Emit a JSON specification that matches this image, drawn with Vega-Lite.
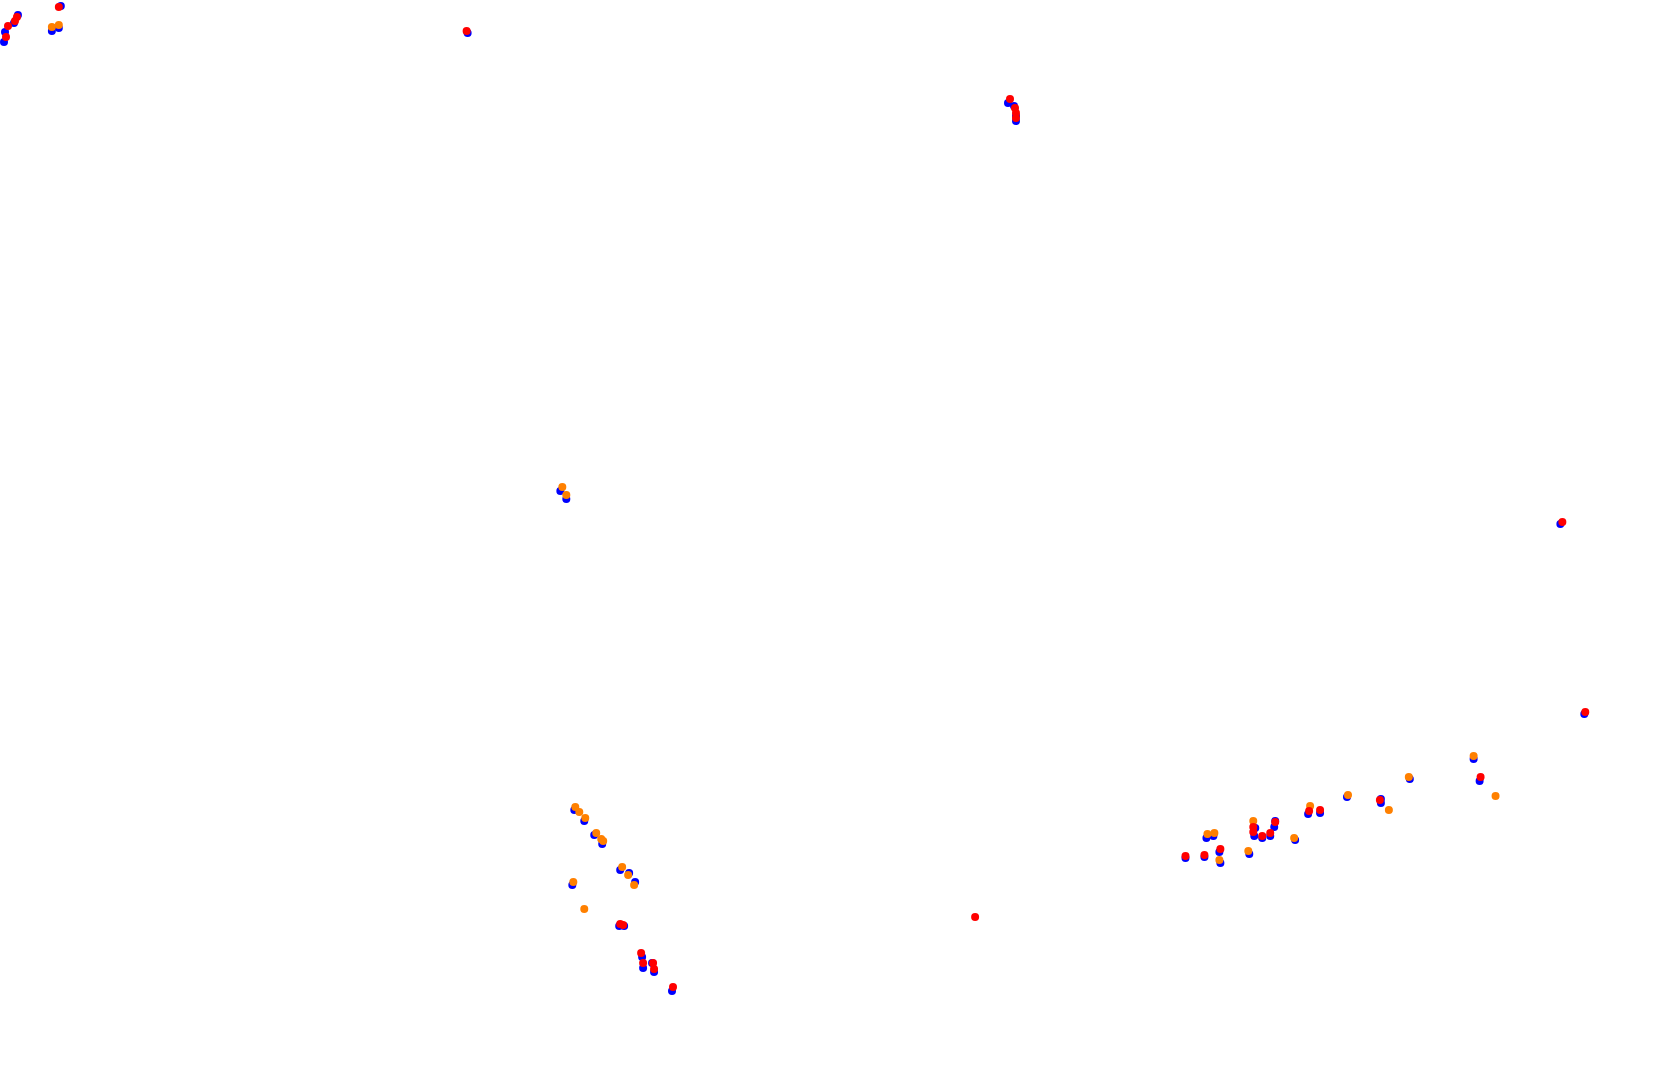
{
  "$schema": "https://vega.github.io/schema/vega-lite/v6.json",
  "width": 1680,
  "height": 1076,
  "autosize": {"type": "fit", "contains": "padding"},
  "padding": 0,
  "config": {"view": {"stroke": null}},
  "datasets": {
    "pts": [
      {"s": "blue", "x": 58, "y": 6}, {"s": "blue", "x": 49, "y": 31}, {"s": "blue", "x": 56, "y": 28}, {"s": "blue", "x": 15, "y": 15}, {"s": "blue", "x": 11, "y": 23}, {"s": "blue", "x": 2, "y": 32}, {"s": "blue", "x": 1, "y": 42}, {"s": "blue", "x": 466, "y": 33}, {"s": "blue", "x": 1008, "y": 103}, {"s": "blue", "x": 1014, "y": 106}, {"s": "blue", "x": 1016, "y": 116}, {"s": "blue", "x": 1016, "y": 121}, {"s": "blue", "x": 559, "y": 491}, {"s": "blue", "x": 565, "y": 499}, {"s": "blue", "x": 1562, "y": 524}, {"s": "blue", "x": 1586, "y": 714}, {"s": "blue", "x": 573, "y": 810}, {"s": "blue", "x": 583, "y": 821}, {"s": "blue", "x": 593, "y": 835}, {"s": "blue", "x": 601, "y": 844}, {"s": "blue", "x": 619, "y": 870}, {"s": "blue", "x": 628, "y": 873}, {"s": "blue", "x": 634, "y": 882}, {"s": "blue", "x": 571, "y": 885}, {"s": "blue", "x": 618, "y": 926}, {"s": "blue", "x": 623, "y": 926}, {"s": "blue", "x": 641, "y": 957}, {"s": "blue", "x": 642, "y": 968}, {"s": "blue", "x": 651, "y": 963}, {"s": "blue", "x": 653, "y": 972}, {"s": "blue", "x": 671, "y": 991}, {"s": "blue", "x": 1475, "y": 759}, {"s": "blue", "x": 1481, "y": 781}, {"s": "blue", "x": 1411, "y": 779}, {"s": "blue", "x": 1348, "y": 797}, {"s": "blue", "x": 1382, "y": 799}, {"s": "blue", "x": 1382, "y": 803}, {"s": "blue", "x": 1309, "y": 814}, {"s": "blue", "x": 1321, "y": 813}, {"s": "blue", "x": 1296, "y": 840}, {"s": "blue", "x": 1276, "y": 821}, {"s": "blue", "x": 1275, "y": 827}, {"s": "blue", "x": 1271, "y": 836}, {"s": "blue", "x": 1263, "y": 838}, {"s": "blue", "x": 1256, "y": 828}, {"s": "blue", "x": 1255, "y": 836}, {"s": "blue", "x": 1250, "y": 854}, {"s": "blue", "x": 1207, "y": 838}, {"s": "blue", "x": 1214, "y": 836}, {"s": "blue", "x": 1220, "y": 852}, {"s": "blue", "x": 1221, "y": 863}, {"s": "blue", "x": 1205, "y": 857}, {"s": "blue", "x": 1186, "y": 858},
      {"s": "orange", "x": 49, "y": 27}, {"s": "orange", "x": 56, "y": 25}, {"s": "orange", "x": 561, "y": 487}, {"s": "orange", "x": 565, "y": 495}, {"s": "orange", "x": 574, "y": 807}, {"s": "orange", "x": 578, "y": 812}, {"s": "orange", "x": 584, "y": 818}, {"s": "orange", "x": 595, "y": 833}, {"s": "orange", "x": 600, "y": 839}, {"s": "orange", "x": 602, "y": 841}, {"s": "orange", "x": 621, "y": 867}, {"s": "orange", "x": 627, "y": 875}, {"s": "orange", "x": 633, "y": 885}, {"s": "orange", "x": 572, "y": 882}, {"s": "orange", "x": 583, "y": 909}, {"s": "orange", "x": 1475, "y": 756}, {"s": "orange", "x": 1497, "y": 796}, {"s": "orange", "x": 1410, "y": 777}, {"s": "orange", "x": 1349, "y": 795}, {"s": "orange", "x": 1390, "y": 810}, {"s": "orange", "x": 1311, "y": 806}, {"s": "orange", "x": 1295, "y": 838}, {"s": "orange", "x": 1254, "y": 821}, {"s": "orange", "x": 1249, "y": 851}, {"s": "orange", "x": 1215, "y": 833}, {"s": "orange", "x": 1208, "y": 834}, {"s": "orange", "x": 1220, "y": 860},
      {"s": "red", "x": 56, "y": 7}, {"s": "red", "x": 14, "y": 17}, {"s": "red", "x": 12, "y": 21}, {"s": "red", "x": 5, "y": 26}, {"s": "red", "x": 3, "y": 37}, {"s": "red", "x": 465, "y": 31}, {"s": "red", "x": 1010, "y": 99}, {"s": "red", "x": 1015, "y": 108}, {"s": "red", "x": 1016, "y": 113}, {"s": "red", "x": 1016, "y": 118}, {"s": "red", "x": 1564, "y": 522}, {"s": "red", "x": 1587, "y": 712}, {"s": "red", "x": 975, "y": 917}, {"s": "red", "x": 619, "y": 924}, {"s": "red", "x": 622, "y": 925}, {"s": "red", "x": 640, "y": 953}, {"s": "red", "x": 642, "y": 963}, {"s": "red", "x": 652, "y": 963}, {"s": "red", "x": 653, "y": 969}, {"s": "red", "x": 672, "y": 987}, {"s": "red", "x": 1482, "y": 777}, {"s": "red", "x": 1381, "y": 800}, {"s": "red", "x": 1310, "y": 811}, {"s": "red", "x": 1321, "y": 810}, {"s": "red", "x": 1276, "y": 822}, {"s": "red", "x": 1271, "y": 833}, {"s": "red", "x": 1263, "y": 836}, {"s": "red", "x": 1254, "y": 827}, {"s": "red", "x": 1254, "y": 832}, {"s": "red", "x": 1221, "y": 849}, {"s": "red", "x": 1205, "y": 855}, {"s": "red", "x": 1186, "y": 856}
    ]
  },
  "data": {"name": "pts"},
  "mark": {"type": "circle", "size": 64, "opacity": 1},
  "encoding": {
    "x": {"field": "x", "type": "quantitative", "scale": {"domain": [2, 1682], "nice": false, "zero": false}, "axis": null},
    "y": {"field": "y", "type": "quantitative", "scale": {"domain": [0, 1076], "nice": false, "zero": false, "reverse": true}, "axis": null},
    "color": {"field": "s", "type": "nominal", "scale": {"domain": ["blue", "orange", "red"], "range": ["#0000ff", "#ff8000", "#ff0000"]}, "legend": null}
  }
}
